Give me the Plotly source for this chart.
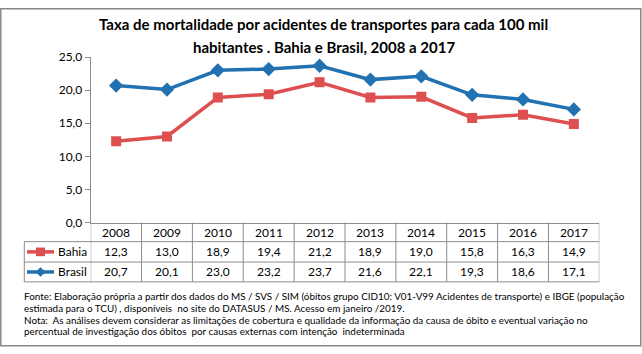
import plotly.graph_objects as go

years = [2008, 2009, 2010, 2011, 2012, 2013, 2014, 2015, 2016, 2017]
bahia = [12.3, 13.0, 18.9, 19.4, 21.2, 18.9, 19.0, 15.8, 16.3, 14.9]
brasil = [20.7, 20.1, 23.0, 23.2, 23.7, 21.6, 22.1, 19.3, 18.6, 17.1]
series_names = ["Bahia", "Brasil"]
y_ticks = [0, 5, 10, 15, 20, 25]

title_l1 = "Taxa de mortalidade por acidentes de transportes para cada 100 mil"
title_l2 = "habitantes . Bahia e Brasil, 2008 a 2017"
foot_lines = [
    "Fonte: Elaboração própria a partir dos dados do MS / SVS / SIM (óbitos grupo CID10: V01-V99 Acidentes de transporte) e IBGE (população",
    "estimada para o TCU) , disponíveis  no site do DATASUS / MS. Acesso em janeiro /2019.",
    "Nota:  As análises devem considerar as limitações de cobertura e qualidade da informação da causa de óbito e eventual variação no",
    "percentual de investigação dos óbitos  por causas externas com intenção  indeterminada",
]

W, H = 642, 354
RED = "#DE5050"
BLUE = "#2271B0"
GRID = "#8C8C8C"
FONT = "Lato"

def px(x):
    return x / W

def py(y):
    return 1 - y / H

x_left, x_right = 90.7, 599.3
y_top, y_zero = 51.3, 224.0
row_lines = [224.0, 244.0, 265.3, 286.0]
leg_left = 24.3

fig = go.Figure()
fig.add_trace(go.Scatter(x=years, y=bahia, name="Bahia", mode="lines+markers",
                         line=dict(color=RED, width=3.5),
                         marker=dict(symbol="square", size=10, color=RED)))
fig.add_trace(go.Scatter(x=years, y=brasil, name="Brasil", mode="lines+markers",
                         line=dict(color=BLUE, width=3.5),
                         marker=dict(symbol="diamond", size=11, color=BLUE)))

shapes = []
annotations = []

def note(x, y, text, font, xref="paper", xanchor="center"):
    annotations.append(dict(x=x, y=y, xref=xref, yref="paper", text=text, showarrow=False,
                            xanchor=xanchor, yanchor="middle", font=font))

# outer border
shapes.append(dict(type="rect", xref="paper", yref="paper", x0=px(0.8), x1=px(640.8), y0=py(352.8), y1=py(0.8),
                   line=dict(color="#888888", width=1.5)))

# table horizontal lines
for yy in row_lines[1:]:
    shapes.append(dict(type="line", xref="paper", yref="paper", x0=px(leg_left), x1=px(x_right),
                       y0=py(yy), y1=py(yy), line=dict(color=GRID, width=1)))
# vertical lines
for k in range(len(years) + 1):
    xv = years[0] - 0.5 + k
    shapes.append(dict(type="line", xref="x", yref="paper", x0=xv, x1=xv,
                       y0=py(row_lines[0]), y1=py(row_lines[-1]), line=dict(color=GRID, width=1)))
shapes.append(dict(type="line", xref="paper", yref="paper", x0=px(leg_left), x1=px(leg_left),
                   y0=py(row_lines[1]), y1=py(row_lines[-1]), line=dict(color=GRID, width=1)))

# table cells
font_tbl = dict(family=FONT, size=12, color="black")
for yr in years:
    note(yr, py((row_lines[0] + row_lines[1]) / 2), str(yr), font_tbl, xref="x")

def fmt(v):
    return f"{v:.1f}".replace(".", ",")

for r, (vals, name, color, sym) in enumerate([(bahia, "Bahia", RED, "square"), (brasil, "Brasil", BLUE, "diamond")]):
    yc = (row_lines[r + 1] + row_lines[r + 2]) / 2
    for yr, v in zip(years, vals):
        note(yr, py(yc), fmt(v), font_tbl, xref="x")
    note(px(55.5), py(yc), name, font_tbl, xanchor="left")
    # legend key
    shapes.append(dict(type="line", xref="paper", yref="paper", x0=px(27), x1=px(54),
                       y0=py(yc), y1=py(yc), line=dict(color=color, width=3.5)))
    cx, cy = 40.5, yc
    if sym == "square":
        shapes.append(dict(type="rect", xref="paper", yref="paper", x0=px(cx - 4.5), x1=px(cx + 4.5),
                           y0=py(cy + 4.5), y1=py(cy - 4.5), fillcolor=color, line=dict(width=0)))
    else:
        path = f"M {px(cx-5)},{py(cy)} L {px(cx)},{py(cy-5)} L {px(cx+5)},{py(cy)} L {px(cx)},{py(cy+5)} Z"
        shapes.append(dict(type="path", xref="paper", yref="paper", path=path, fillcolor=color, line=dict(width=0)))

# title
note(px(324), py(16.5), "<b>" + title_l1 + "</b>", dict(family=FONT, size=15, color="black"))
note(px(324), py(40.5), "<b>" + title_l2 + "</b>", dict(family=FONT, size=15, color="black"))

# footnote
for i, line in enumerate(foot_lines):
    note(px(22), py(300.5 + i * 12.4), line, dict(family=FONT, size=9.9, color="black"), xanchor="left")

fig.update_layout(
    width=W, height=H,
    margin=dict(l=0, r=0, t=0, b=0),
    paper_bgcolor="white", plot_bgcolor="white",
    showlegend=False,
    separators=", ",
    shapes=shapes, annotations=annotations,
    xaxis=dict(domain=[px(x_left), px(x_right)], range=[years[0] - 0.5, years[-1] + 0.5],
               showticklabels=False, ticks="", showgrid=False, zeroline=False,
               showline=True, linecolor=GRID, linewidth=1),
    yaxis=dict(domain=[py(y_zero), py(y_top)], range=[0, 25], tickvals=y_ticks, tickformat=".1f",
               ticks="outside", ticklen=5, tickcolor=GRID, showgrid=False, zeroline=False,
               showline=True, linecolor=GRID, linewidth=1,
               tickfont=dict(family=FONT, size=12, color="black")),
    font=dict(family=FONT),
)

fig.write_html("out.html", post_script="document.body.style.margin='0';document.body.style.padding='0';")
